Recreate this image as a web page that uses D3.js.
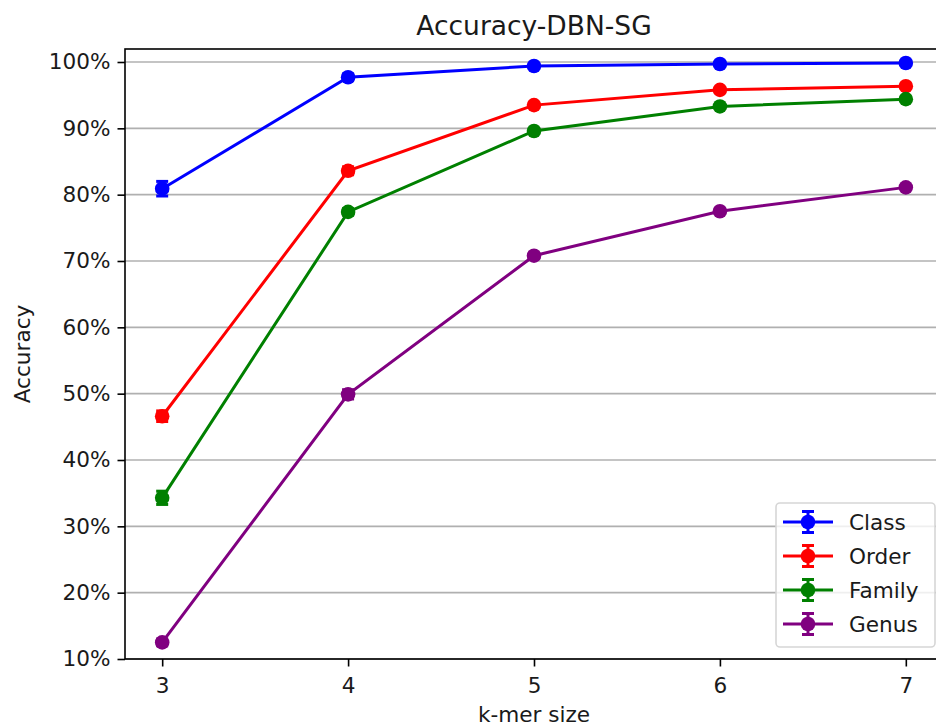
<!DOCTYPE html>
<html>
<head>
<meta charset="utf-8">
<script src="https://cdn.jsdelivr.net/npm/d3@7"></script>
<style>
  html, body { margin: 0; padding: 0; background: #fff; overflow: hidden; }
  svg { display: block; font-family: "DejaVu Sans", sans-serif; }
</style>
</head>
<body>
<svg id="chart" width="936" height="724"></svg>
<script>
// ---- data ----
const kmers = [3, 4, 5, 6, 7];
const seriesNames = ["Class", "Order", "Family", "Genus"];
const seriesColors = ["blue", "red", "green", "purple"];
const classAcc  = [80.9, 97.7, 99.4, 99.7, 99.85];
const orderAcc  = [46.6, 83.6, 93.5, 95.8, 96.35];
const familyAcc = [34.3, 77.4, 89.6, 93.3, 94.4];
const genusAcc  = [12.5, 49.9, 70.8, 77.5, 81.1];
const classErr  = [1.1, 0.5, 0.3, 0.2, 0.1];
const orderErr  = [0.8, 0.6, 0.3, 0.2, 0.2];
const familyErr = [1.0, 0.5, 0.3, 0.2, 0.2];
const genusErr  = [0.5, 0.7, 0.4, 0.3, 0.2];
const yTicks = [10, 20, 30, 40, 50, 60, 70, 80, 90, 100];
const xTicks = [3, 4, 5, 6, 7];

const values = [classAcc, orderAcc, familyAcc, genusAcc];
const errors = [classErr, orderErr, familyErr, genusErr];

// ---- layout ----
const svg = d3.select("#chart");
const mLeft = 125, mRight = 943, mTop = 49, mBottom = 659;

const x = d3.scaleLinear().domain([2.8, 7.2]).range([mLeft, mRight]);
const y = d3.scaleLinear().domain([10, 101.96]).range([mBottom, mTop]);

const fontSize = 21.6;
const lw = 3;
const textCol = "#1a1a1a";

// grid
svg.append("g").selectAll("line").data(yTicks).join("line")
  .attr("x1", mLeft).attr("x2", mRight)
  .attr("y1", d => y(d)).attr("y2", d => y(d))
  .attr("stroke", "#b0b0b0").attr("stroke-width", 1.6);

// axes
const yAxis = svg.append("g").attr("transform", `translate(${mLeft},0)`)
  .call(d3.axisLeft(y).tickValues(yTicks).tickFormat(d => d + "%").tickSize(7.5).tickPadding(7));
const xAxis = svg.append("g").attr("transform", `translate(0,${mBottom})`)
  .call(d3.axisBottom(x).tickValues(xTicks).tickFormat(d3.format("d")).tickSize(7.5).tickPadding(11));
[yAxis, xAxis].forEach(a => {
  a.select(".domain").remove();
  a.selectAll(".tick line").attr("stroke", "#000").attr("stroke-width", 1.6);
  a.selectAll(".tick text").attr("font-size", fontSize).attr("fill", textCol)
    .attr("font-family", "DejaVu Sans, sans-serif");
});

// spines
svg.append("rect").attr("x", mLeft).attr("y", mTop)
  .attr("width", mRight - mLeft).attr("height", mBottom - mTop)
  .attr("fill", "none").attr("stroke", "#000").attr("stroke-width", 1.6);

// series
const line = d3.line().x((d, i) => x(kmers[i])).y(d => y(d));
values.forEach((vals, si) => {
  const col = seriesColors[si];
  const g = svg.append("g");
  g.append("path").datum(vals).attr("d", line)
    .attr("fill", "none").attr("stroke", col).attr("stroke-width", lw);
  // error bars
  vals.forEach((v, i) => {
    const e = errors[si][i];
    const cx = x(kmers[i]);
    g.append("line").attr("x1", cx).attr("x2", cx)
      .attr("y1", y(v - e)).attr("y2", y(v + e))
      .attr("stroke", col).attr("stroke-width", lw);
    [v - e, v + e].forEach(cv => {
      g.append("line").attr("x1", cx - 6).attr("x2", cx + 6)
        .attr("y1", y(cv)).attr("y2", y(cv))
        .attr("stroke", col).attr("stroke-width", lw);
    });
  });
  g.selectAll("circle").data(vals).join("circle")
    .attr("cx", (d, i) => x(kmers[i])).attr("cy", d => y(d))
    .attr("r", 7.3).attr("fill", col);
});

// title
svg.append("text").attr("x", (mLeft + mRight) / 2).attr("y", 35)
  .attr("text-anchor", "middle").attr("font-size", 26.5).attr("fill", textCol)
  .text("Accuracy-DBN-SG");

// axis labels
svg.append("text").attr("x", (mLeft + mRight) / 2).attr("y", 722)
  .attr("text-anchor", "middle").attr("font-size", fontSize).attr("fill", textCol)
  .text("k-mer size");
svg.append("text").attr("transform", `translate(30,${(mTop + mBottom) / 2}) rotate(-90)`)
  .attr("text-anchor", "middle").attr("font-size", fontSize).attr("fill", textCol)
  .text("Accuracy");

// legend
const lg = svg.append("g");
lg.append("rect").attr("x", 776).attr("y", 503).attr("width", 159).attr("height", 144)
  .attr("rx", 4).attr("fill", "#fff").attr("fill-opacity", 0.8)
  .attr("stroke", "#d6d6d6").attr("stroke-width", 1.6);
seriesNames.forEach((name, i) => {
  const cy = 522 + i * 34;
  const col = seriesColors[i];
  lg.append("line").attr("x1", 783).attr("x2", 833).attr("y1", cy).attr("y2", cy)
    .attr("stroke", col).attr("stroke-width", lw);
  lg.append("line").attr("x1", 808).attr("x2", 808).attr("y1", cy - 10.5).attr("y2", cy + 10.5)
    .attr("stroke", col).attr("stroke-width", lw);
  [cy - 10.5, cy + 10.5].forEach(yy => {
    lg.append("line").attr("x1", 802).attr("x2", 814).attr("y1", yy).attr("y2", yy)
      .attr("stroke", col).attr("stroke-width", lw);
  });
  lg.append("circle").attr("cx", 808).attr("cy", cy).attr("r", 7.3).attr("fill", col);
  lg.append("text").attr("x", 849).attr("y", cy + 7.8).attr("font-size", fontSize)
    .attr("fill", textCol).text(name);
});
</script>
</body>
</html>
